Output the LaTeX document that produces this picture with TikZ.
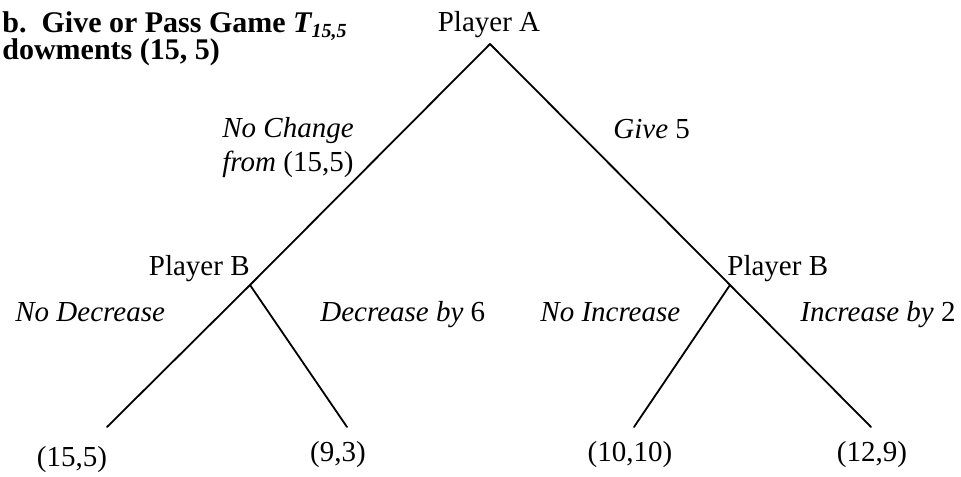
\documentclass[tikz,border=0pt]{standalone}
\usepackage{fontspec}
\setmainfont{Liberation Serif}
\begin{document}
\begin{tikzpicture}[x=0.5pt,y=-0.5pt,
  lbl/.style={inner sep=0pt,font=\fontsize{14.5}{17}\selectfont},
  ttl/.style={inner sep=0pt,anchor=base west,font=\fontsize{15}{18}\selectfont\bfseries},
  edge/.style={line width=0.9pt,line cap=round}]
\useasboundingbox (0,0) rectangle (961,476);
% title
\node[ttl] (t1) at (2,33) {b.\ \ Give or Pass Game \textit{T\raisebox{-0.35ex}{\fontsize{10}{10}\selectfont 15,5}}};
\node[ttl] (t2) at (2,60) {dowments (15, 5)};
% decision points
\coordinate (a) at (490,44);
\coordinate (b1) at (250,285);
\coordinate (b2) at (730,285);
\coordinate (e1) at (107,427);
\coordinate (e2) at (347,427);
\coordinate (e3) at (634,427);
\coordinate (e4) at (871,427);
% player labels
\node[lbl,anchor=base] (pa) at (489,32) {Player A};
\node[lbl,anchor=base east] (pb1) at (250,275) {Player B};
\node[lbl,anchor=base west] (pb2) at (727,275) {Player B};
% edges
\draw[edge] (a) -- (b1) -- (e1);
\draw[edge] (a) -- (b2) -- (e4);
\draw[edge] (b1) -- (e2);
\draw[edge] (b2) -- (e3);
% action labels
\node[lbl,anchor=base west,align=left] (nc) at (222,137) {\textit{No Change}};
\node[lbl,anchor=base west] (nc2) at (222,171) {\textit{from} (15,5)};
\node[lbl,anchor=base west] (g5) at (613,138) {\textit{Give} 5};
\node[lbl,anchor=base west] (nd) at (15,321) {\textit{No Decrease}};
\node[lbl,anchor=base west] (d6) at (320,321) {\textit{Decrease by} 6};
\node[lbl,anchor=base west] (ni) at (540,321) {\textit{No Increase}};
\node[lbl,anchor=base west] (i2) at (800,321) {\textit{Increase by} 2};
% payoffs
\node[lbl,anchor=base] (p1) at (72,466) {(15,5)};
\node[lbl,anchor=base] (p2) at (338,461) {(9,3)};
\node[lbl,anchor=base] (p3) at (630,461) {(10,10)};
\node[lbl,anchor=base] (p4) at (872,461) {(12,9)};
\end{tikzpicture}
\end{document}
